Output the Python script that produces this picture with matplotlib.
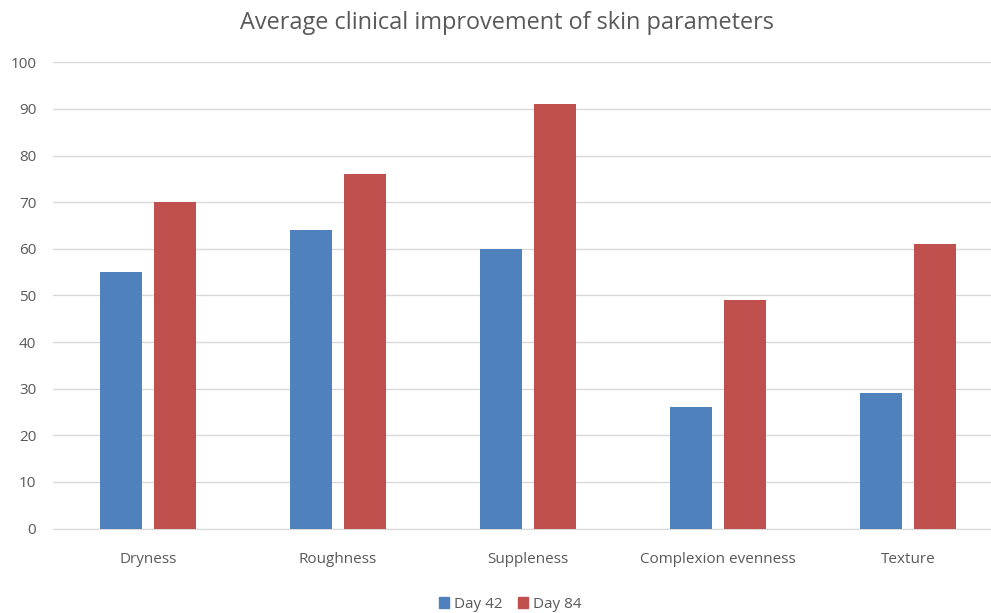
import matplotlib
matplotlib.use("Agg")
import matplotlib.pyplot as plt
import numpy as np
from matplotlib.patches import Patch

categories = ["Dryness", "Roughness", "Suppleness", "Complexion evenness", "Texture"]
day42 = [55, 64, 60, 26, 29]
day84 = [70, 76, 91, 49, 61]
series_names = ["Day 42", "Day 84"]
colors = ["#4F81BD", "#C0504D"]

plt.rcParams['font.family'] = ['Open Sans', 'DejaVu Sans']
W, H = 991, 613
fig = plt.figure(figsize=(W/100, H/100), dpi=100)
ax = fig.add_axes([53/W, 1-528.5/H, 950/W, (528.5-62.3)/H])

x = np.arange(len(categories))
bw = 0.226
off = 0.142
ax.bar(x - off, day42, bw, color=colors[0], zorder=3)
ax.bar(x + off, day84, bw, color=colors[1], zorder=3)
ax.set_xlim(-0.5, len(categories) - 0.5)
ax.set_ylim(0, 100)
ax.set_yticks(range(0, 101, 10))
ax.grid(axis='y', color='#D9D9D9', linewidth=1, zorder=0)
ax.set_axisbelow(True)
for s in ['top', 'right', 'left']:
    ax.spines[s].set_visible(False)
ax.spines['bottom'].set_color('#D9D9D9')
ax.tick_params(axis='both', length=0, colors='#595959', labelsize=11)
ax.tick_params(axis='y', pad=12)
ax.tick_params(axis='x', pad=17)
ax.set_xticks(x)
ax.set_xticklabels(categories)

fig.text(507/W, 1-23/H, "Average clinical improvement of skin parameters",
         ha='center', va='center', fontsize=16.9, color='#595959')

handles = [Patch(color=c) for c in colors]
fig.legend(handles, series_names, loc='center', bbox_to_anchor=(510/W, 1-604/H),
           ncol=2, frameon=False, fontsize=11, handlelength=0.7, handleheight=0.7,
           handletextpad=0.3, columnspacing=1.0, labelcolor='#595959')

fig.savefig("out.png", dpi=100)
